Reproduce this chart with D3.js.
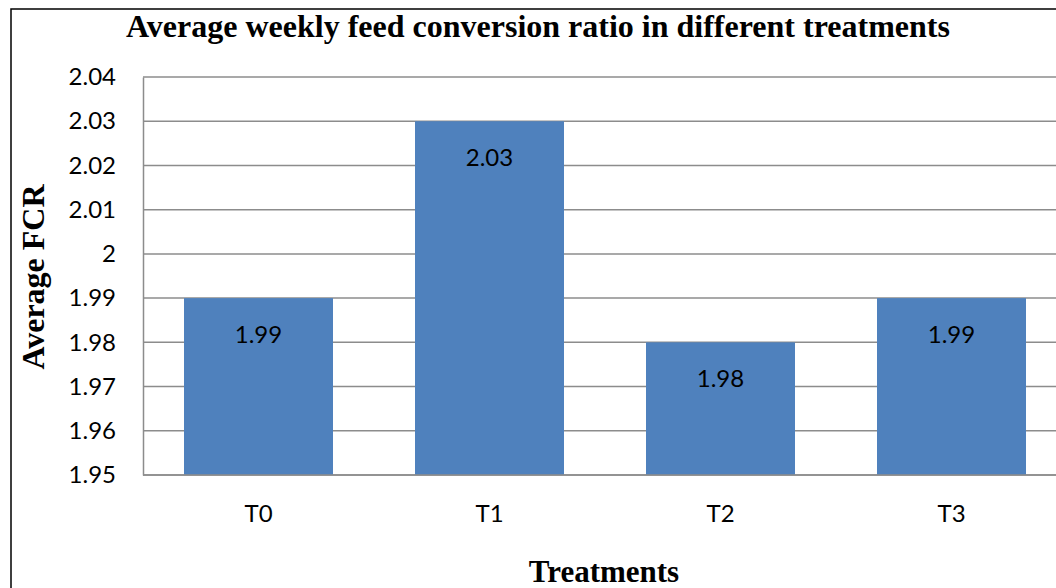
<!DOCTYPE html>
<html>
<head>
<meta charset="utf-8">
<script src="https://cdn.jsdelivr.net/npm/d3@7"></script>
<style>
  body { margin: 0; background: #fff; }
  svg { display: block; }
</style>
</head>
<body>
<script>
var w = 1056; // page width
var h = 588;  // page height

// data
var treatments = ["T0", "T1", "T2", "T3"];
var fcr = [1.99, 2.03, 1.98, 1.99];
var yTicks = [1.95, 1.96, 1.97, 1.98, 1.99, 2.00, 2.01, 2.02, 2.03, 2.04];

var plotLeft = 143, plotTop = 77, plotBottom = 475;
var bodyFont = "Lato, 'Open Sans', sans-serif";
var serifFont = "'Liberation Serif', 'Times New Roman', serif";

var svg = d3.select("body").append("svg").attr("width", w).attr("height", h);

// outer chart border (runs off the right and bottom of the picture)
svg.append("rect")
    .attr("x", 11).attr("y", 9)
    .attr("width", 1200).attr("height", 800)
    .style("fill", "none").style("stroke", "#000").style("stroke-width", 1.5);

var xScale = d3.scaleBand().domain(treatments)
    .range([plotLeft, plotLeft + 4 * 231])
    .paddingInner(0.355).paddingOuter(0.1775);

var yScale = d3.scaleLinear().domain([1.95, 2.04]).range([plotBottom, plotTop]);

// gridlines
svg.append("g").selectAll("line").data(yTicks).enter().append("line")
    .attr("x1", plotLeft).attr("x2", w + 10)
    .attr("y1", function (d) { return yScale(d); })
    .attr("y2", function (d) { return yScale(d); })
    .style("stroke", "#8c8c8c").style("stroke-width", 1.5);

// bars
svg.append("g").selectAll("rect").data(fcr).enter().append("rect")
    .attr("x", function (d, i) { return xScale(treatments[i]); })
    .attr("y", function (d) { return yScale(d); })
    .attr("width", xScale.bandwidth())
    .attr("height", function (d) { return plotBottom - yScale(d); })
    .style("fill", "#4f81bd");

// y axis
var yAxis = d3.axisLeft(yScale).tickValues(yTicks).tickSize(0).tickPadding(27)
    .tickFormat(function (d) { return String(+d.toFixed(2)); });
var gy = svg.append("g").attr("transform", "translate(" + plotLeft + ",0)").call(yAxis);
gy.select(".domain").style("stroke", "#8c8c8c").style("stroke-width", 1.5);
gy.selectAll("text").style("font-family", bodyFont)
    .style("font-size", "24px").style("fill", "#000");

// x axis
var xAxis = d3.axisBottom(xScale).tickSize(0).tickPadding(30);
var gx = svg.append("g").attr("transform", "translate(0," + plotBottom + ")").call(xAxis);
gx.select(".domain").attr("d", "M" + plotLeft + ",0H" + (w + 10))
    .style("stroke", "#8c8c8c").style("stroke-width", 1.5);
gx.selectAll("text").style("font-family", bodyFont)
    .style("font-size", "24px").style("fill", "#000");

// value labels
svg.append("g").selectAll("text").data(fcr).enter().append("text")
    .text(function (d) { return d.toFixed(2); })
    .attr("x", function (d, i) { return xScale(treatments[i]) + xScale.bandwidth() / 2; })
    .attr("y", function (d) { return yScale(d) + 36; })
    .attr("dy", "0.35em")
    .attr("text-anchor", "middle")
    .style("font-family", bodyFont)
    .style("font-size", "24px").style("fill", "#000");

// titles
svg.append("text").text("Average weekly feed conversion ratio in different treatments")
    .attr("x", 538).attr("y", 37).attr("text-anchor", "middle")
    .style("font-family", serifFont)
    .style("font-weight", "bold").style("font-size", "32px");

svg.append("text").text("Treatments")
    .attr("x", 604).attr("y", 582).attr("text-anchor", "middle")
    .style("font-family", serifFont)
    .style("font-weight", "bold").style("font-size", "31px");

svg.append("text").text("Average FCR")
    .attr("transform", "translate(44,277) rotate(-90)").attr("text-anchor", "middle")
    .style("font-family", serifFont)
    .style("font-weight", "bold").style("font-size", "32px");
</script>
</body>
</html>
